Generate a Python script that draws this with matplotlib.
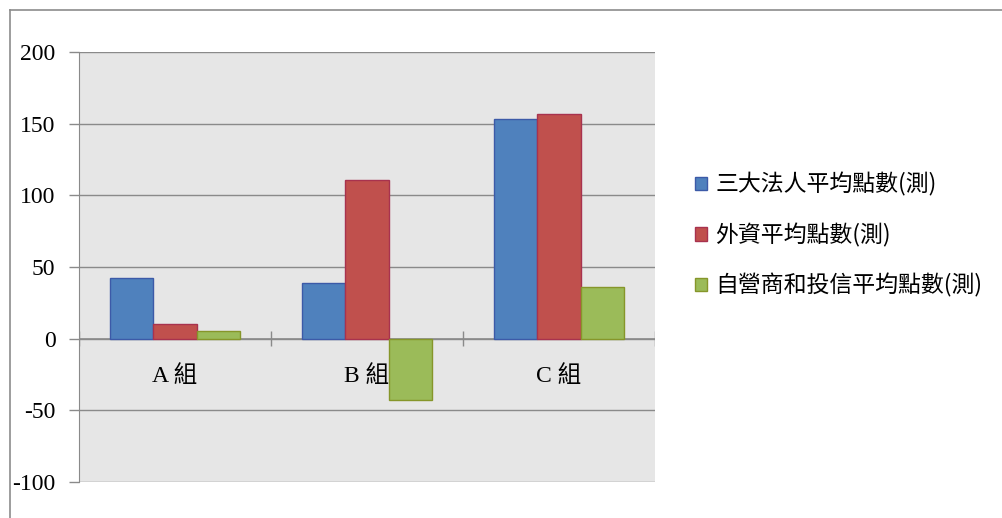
import numpy as np
import matplotlib
matplotlib.use('Agg')
import matplotlib.pyplot as plt
from matplotlib.lines import Line2D
from matplotlib.patches import Patch

plt.rcParams['font.family'] = ['Noto Sans CJK TC', 'DejaVu Sans']

groups = ['A組', 'B組', 'C組']
series = ['三大法人平均點數(測)', '外資平均點數(測)', '自營商和投信平均點數(測)']
inst = [42.5, 39, 153.5]
foreign = [10.5, 111, 157]
dealer = [5, -43, 36]
yticks = [-100, -50, 0, 50, 100, 150, 200]

colors = ['#4F81BD', '#C0504D', '#9BBB59']
edges = ['#3C5AA8', '#A8324E', '#86962A']

W, H = 1002, 518
fig = plt.figure(figsize=(W / 100, H / 100), dpi=100)
fig.patch.set_facecolor('white')

# outer chart frame (left and top edges visible)
fig.add_artist(Line2D([10 / W, 10 / W], [0, 1 - 10 / H], color='#8c8c8c', lw=1.2))
fig.add_artist(Line2D([10 / W, 1], [1 - 10 / H, 1 - 10 / H], color='#8c8c8c', lw=1.2))

ax = fig.add_axes([79 / W, 36 / H, (655 - 79) / W, (482 - 52) / H])
ax.set_facecolor('#E6E6E6')

x = np.arange(len(groups))
bw = 0.224
for i, vals in enumerate([inst, foreign, dealer]):
    ax.bar(x + (i - 1) * bw, vals, bw, color=colors[i], edgecolor=edges[i],
           linewidth=1.0, zorder=3)

ax.set_xlim(-0.5, 2.5)
ax.set_ylim(-100, 200)
ax.set_yticks(yticks)
ax.set_yticklabels([str(v) for v in yticks], family='Liberation Serif', fontsize=17)
ax.yaxis.grid(True, color='#8a8a8a', lw=1.0, zorder=0)
ax.set_axisbelow(True)
ax.tick_params(axis='y', length=7, width=1, color='#8a8a8a', pad=10)
ax.set_xticks([])

for s in ['top', 'right', 'bottom']:
    ax.spines[s].set_visible(False)
ax.spines['left'].set_color('#8a8a8a')

# category axis at zero with boundary tick marks
ax.axhline(0, color='#8a8a8a', lw=1.2, zorder=2)
ax.vlines([-0.5, 0.5, 1.5, 2.5], -5, 5, color='#8a8a8a', lw=1.0, zorder=2)
for i, g in enumerate(groups):
    ax.text(x[i], -26, g[0] + ' ' + g[1], ha='center', va='center', fontsize=17,
            family=['Liberation Serif', 'Noto Sans CJK TC'], zorder=4)

handles = [Patch(facecolor=colors[i], edgecolor=edges[i]) for i in range(3)]
fig.legend(handles, series, loc='center left', bbox_to_anchor=(674 / W, 1 - 235 / H),
           frameon=False, fontsize=16.5, handlelength=0.55, handleheight=0.55,
           handletextpad=0.35, labelspacing=1.15)

plt.savefig('out.png', dpi=100)
plt.close()
